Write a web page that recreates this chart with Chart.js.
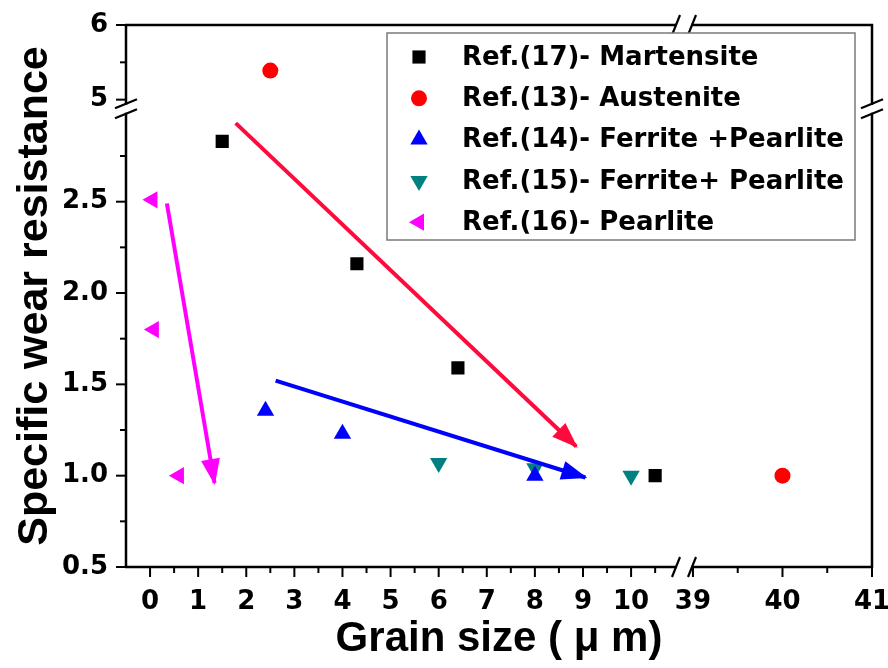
<!DOCTYPE html>
<html>
<head>
<meta charset="utf-8">
<title>Specific wear resistance vs grain size</title>
<script src="https://cdn.jsdelivr.net/npm/chart.js@4.4.1/dist/chart.umd.min.js"></script>
<style>
  html, body { margin: 0; padding: 0; background: #fff; }
  #wrap { width: 888px; height: 668px; }
</style>
</head>
<body>
<div id="wrap"><canvas id="chart" width="888" height="668"></canvas></div>
<script>
/* ---------- data ---------- */

const martensiteX = [1.5, 4.3, 6.4, 10.5];
const martensiteY = [2.83, 2.16, 1.59, 1.0];

const austeniteX = [2.5, 40];
const austeniteY = [5.39, 1.0];

const ferrite14X = [2.4, 4.0, 8.0];
const ferrite14Y = [1.355, 1.23, 1.0];

const ferrite15X = [6, 8, 10];
const ferrite15Y = [1.07, 1.04, 1.0];

const pearliteX = [0.05, 0.08, 0.6];
const pearliteY = [2.51, 1.80, 1.0];

// trend arrows: [start, tip]
const redArrowX = [1.78, 8.86];
const redArrowY = [2.93, 1.16];
const blueArrowX = [2.61, 9.05];
const blueArrowY = [1.52, 0.99];
const pinkArrowX = [0.35, 1.34];
const pinkArrowY = [2.49, 0.96];

const seriesNames = [
  "Ref.(17)- Martensite",
  "Ref.(13)- Austenite",
  "Ref.(14)- Ferrite +Pearlite",
  "Ref.(15)- Ferrite+ Pearlite",
  "Ref.(16)- Pearlite"
];

const xTickValues = [0, 1, 2, 3, 4, 5, 6, 7, 8, 9, 10, 39, 40, 41];
const xTickLabels = ["0", "1", "2", "3", "4", "5", "6", "7", "8", "9", "10", "39", "40", "41"];
const xMinorTicks = [0.5, 1.5, 2.5, 3.5, 4.5, 5.5, 6.5, 7.5, 8.5, 9.5, 10.5, 39.5, 40.5];

const yTickValues = [0.5, 1.0, 1.5, 2.0, 2.5, 5, 6];
const yTickLabels = ["0.5", "1.0", "1.5", "2.0", "2.5", "5", "6"];
const yMinorTicks = [0.75, 1.25, 1.75, 2.25, 2.75, 5.5];

/* ---------- broken linear scale ---------- */

class BrokenScale extends Chart.LinearScale {
  determineDataLimits() {
    const segs = this.options.segments;
    this.min = segs[0].min;
    this.max = segs[segs.length - 1].max;
  }
  buildTicks() {
    return this.options.tickValues.map(v => ({ value: v }));
  }
  getPixelForValue(value) {
    const segs = this.options.segments;
    let s = segs[segs.length - 1];
    for (let i = 0; i < segs.length; i++) {
      if (value <= segs[i].max) { s = segs[i]; break; }
    }
    const dec = s.from + (value - s.min) / (s.max - s.min) * (s.to - s.from);
    return this.getPixelForDecimal(dec);
  }
  getValueForPixel(pixel) {
    const segs = this.options.segments;
    const dec = this.getDecimalForPixel(pixel);
    let s = segs[segs.length - 1];
    for (let i = 0; i < segs.length; i++) {
      if (dec <= segs[i].to) { s = segs[i]; break; }
    }
    return s.min + (dec - s.from) / (s.to - s.from) * (s.max - s.min);
  }
}
BrokenScale.id = "broken";
BrokenScale.defaults = Chart.LinearScale.defaults;
Chart.register(BrokenScale);

/* ---------- plugins ---------- */

function seg(ctx, x1, y1, x2, y2) {
  ctx.beginPath();
  ctx.moveTo(x1, y1);
  ctx.lineTo(x2, y2);
  ctx.stroke();
}

// axis frame, ticks and the // break marks
const framePlugin = {
  id: "frame",
  beforeDatasetsDraw(chart) {
    const { ctx, chartArea: a, scales: { x, y } } = chart;
    const xs = x.options.segments, ys = y.options.segments;
    const bx = (x.getPixelForValue(xs[0].max) + x.getPixelForValue(xs[1].min)) / 2;
    const by = (y.getPixelForValue(ys[0].max) + y.getPixelForValue(ys[1].min)) / 2;

    ctx.save();
    ctx.strokeStyle = "#000";
    ctx.lineWidth = 2.5;

    // horizontal axes, interrupted at the break
    [a.top, a.bottom].forEach(yy => {
      seg(ctx, a.left - 1, yy, bx - 8, yy);
      seg(ctx, bx + 8, yy, a.right + 1, yy);
    });
    // vertical axes
    [a.left, a.right].forEach(xx => {
      seg(ctx, xx, a.bottom + 1, xx, by + 4);
      seg(ctx, xx, by - 4, xx, a.top - 1);
    });

    // ticks (outside, bottom and left)
    ctx.lineWidth = 2;
    xTickValues.forEach(v => {
      const px = x.getPixelForValue(v);
      seg(ctx, px, a.bottom, px, a.bottom + 10);
    });
    xMinorTicks.forEach(v => {
      const px = x.getPixelForValue(v);
      seg(ctx, px, a.bottom, px, a.bottom + 6);
    });
    yTickValues.forEach(v => {
      const py = y.getPixelForValue(v);
      seg(ctx, a.left - 10, py, a.left, py);
    });
    yMinorTicks.forEach(v => {
      const py = y.getPixelForValue(v);
      seg(ctx, a.left - 6, py, a.left, py);
    });

    // break marks
    ctx.lineWidth = 2.2;
    [a.top, a.bottom].forEach(yy => {
      [-8, 8].forEach(o => seg(ctx, bx + o - 4, yy + 10, bx + o + 4, yy - 10));
    });
    [a.left, a.right].forEach(xx => {
      [-5, 5].forEach(o => seg(ctx, xx - 11, by + o + 4.5, xx + 11, by + o - 4.5));
    });
    ctx.restore();
  }
};

// filled heads on the trend arrows
const arrowHeadPlugin = {
  id: "arrowHeads",
  afterDatasetsDraw(chart) {
    const { ctx } = chart;
    chart.data.datasets.forEach((ds, i) => {
      if (!ds.arrow) return;
      const pts = chart.getDatasetMeta(i).data;
      const p0 = pts[0], p1 = pts[pts.length - 1];
      const ang = Math.atan2(p1.y - p0.y, p1.x - p0.x);
      const len = 26, half = 9.5;
      const tx = p1.x + Math.cos(ang) * 2, ty = p1.y + Math.sin(ang) * 2;
      const bxp = tx - Math.cos(ang) * len, byp = ty - Math.sin(ang) * len;
      ctx.save();
      ctx.fillStyle = ds.borderColor;
      ctx.beginPath();
      ctx.moveTo(tx, ty);
      ctx.lineTo(bxp - Math.sin(ang) * half, byp + Math.cos(ang) * half);
      ctx.lineTo(bxp + Math.sin(ang) * half, byp - Math.cos(ang) * half);
      ctx.closePath();
      ctx.fill();
      ctx.restore();
    });
  }
};

// boxed legend inside the plot
const legendPlugin = {
  id: "boxLegend",
  afterDraw(chart, args, o) {
    const { ctx } = chart;
    ctx.save();
    ctx.fillStyle = "#fff";
    ctx.fillRect(o.left, o.top, o.width, o.height);
    ctx.strokeStyle = "#7a7a7a";
    ctx.lineWidth = 1.5;
    ctx.strokeRect(o.left, o.top, o.width, o.height);
    ctx.font = "bold 26px 'DejaVu Sans'";
    ctx.textBaseline = "middle";
    ctx.textAlign = "left";
    let row = 0;
    chart.data.datasets.forEach(ds => {
      if (ds.arrow) return;
      const cy = o.top + o.firstRow + row * o.rowHeight;
      ctx.fillStyle = ds.backgroundColor;
      Chart.helpers.drawPoint(ctx, {
        pointStyle: ds.pointStyle,
        rotation: ds.rotation || 0,
        radius: ds.legendRadius,
        borderWidth: 0
      }, o.markerX, cy);
      ctx.fillStyle = "#000";
      ctx.fillText(ds.label, o.textX, cy + 1);
      row++;
    });
    ctx.restore();
  }
};

/* ---------- chart ---------- */

function pairs(xs, ys) {
  return xs.map((x, i) => ({ x: x, y: ys[i] }));
}

function markers(label, xs, ys, color, style, radius, rotation) {
  return {
    type: "scatter",
    label: label,
    data: pairs(xs, ys),
    pointStyle: style,
    rotation: rotation,
    pointRadius: radius,
    legendRadius: radius,
    pointBorderWidth: 0,
    backgroundColor: color,
    borderColor: color
  };
}

function arrow(xs, ys, color) {
  return {
    type: "line",
    arrow: true,
    data: pairs(xs, ys),
    borderColor: color,
    borderWidth: 4,
    pointRadius: 0,
    fill: false,
    tension: 0
  };
}

const tickFont = { family: "'DejaVu Sans'", weight: "bold", size: 26 };

// keep the plot box where the figure has it (no label overhang padding)
function noPad(s) {
  s.paddingLeft = 0; s.paddingRight = 0;
  s.paddingTop = 0; s.paddingBottom = 0;
}

new Chart(document.getElementById("chart"), {
  data: {
    datasets: [
      arrow(redArrowX, redArrowY, "#ff0a3c"),
      arrow(blueArrowX, blueArrowY, "#0000ff"),
      arrow(pinkArrowX, pinkArrowY, "#ff00ff"),
      markers(seriesNames[0], martensiteX, martensiteY, "#000000", "rect", 9.3, 0),
      markers(seriesNames[1], austeniteX, austeniteY, "#ff0000", "circle", 8, 0),
      markers(seriesNames[2], ferrite14X, ferrite14Y, "#0000ff", "triangle", 10, 0),
      markers(seriesNames[3], ferrite15X, ferrite15Y, "#008080", "triangle", 10, 180),
      markers(seriesNames[4], pearliteX, pearliteY, "#ff00ff", "triangle", 10, 270)
    ]
  },
  options: {
    responsive: false,
    animation: false,
    layout: { padding: { top: 25, right: 16, left: 0, bottom: 0 } },
    plugins: {
      legend: { display: false },
      tooltip: { enabled: false },
      boxLegend: {
        left: 387, top: 33, width: 468, height: 207,
        firstRow: 24, rowHeight: 41.3, markerX: 419, textX: 462
      }
    },
    scales: {
      x: {
        type: "broken",
        position: "bottom",
        segments: [
          { min: -0.5, max: 11.1, from: 0, to: 0.748 },
          { min: 38.9, max: 41, from: 0.748, to: 1 }
        ],
        tickValues: xTickValues,
        grid: { display: false, drawTicks: false },
        border: { display: false },
        ticks: {
          autoSkip: false,
          maxRotation: 0,
          padding: 20,
          color: "#000",
          font: tickFont,
          callback: (v, i) => xTickLabels[i]
        },
        title: {
          display: true,
          text: "Grain size ( \u03bc m)",
          color: "#000",
          font: { family: "'Liberation Sans'", weight: "bold", size: 42 },
          padding: { top: 0, bottom: 3 }
        },
        afterFit: s => { s.height = 101; noPad(s); }
      },
      y: {
        type: "broken",
        position: "left",
        segments: [
          { min: 0.5, max: 3.0, from: 0, to: 0.8425 },
          { min: 4.9, max: 6.0, from: 0.8485, to: 1 }
        ],
        tickValues: yTickValues,
        grid: { display: false, drawTicks: false },
        border: { display: false },
        ticks: {
          autoSkip: false,
          padding: 18,
          color: "#000",
          font: tickFont,
          callback: (v, i) => yTickLabels[i]
        },
        title: {
          display: true,
          text: "Specific wear resistance",
          color: "#000",
          font: { family: "'Liberation Sans'", weight: "bold", size: 43 },
          padding: { top: 9, bottom: 0 }
        },
        afterFit: s => { s.width = 126; noPad(s); }
      }
    }
  },
  plugins: [framePlugin, arrowHeadPlugin, legendPlugin]
});
</script>
</body>
</html>
